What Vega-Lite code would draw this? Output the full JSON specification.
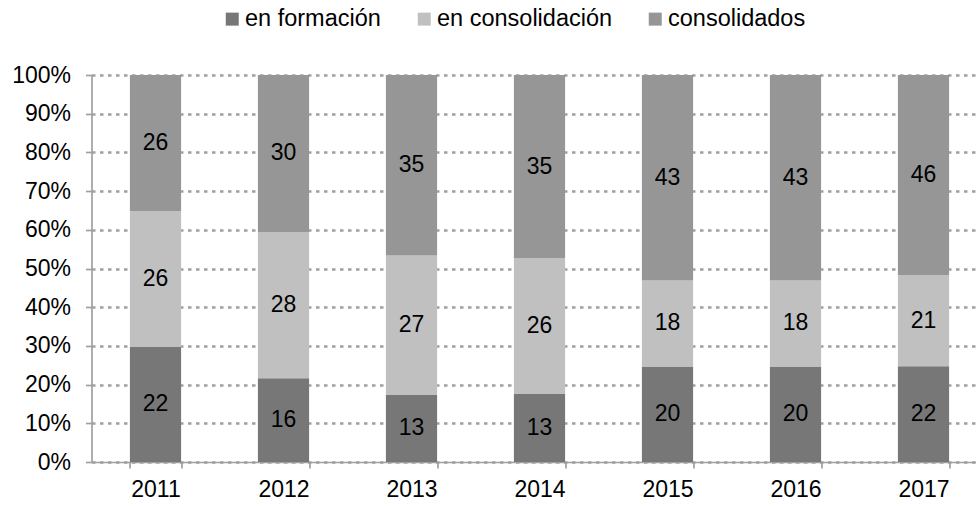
{
  "$schema": "https://vega.github.io/schema/vega-lite/v6.json",
  "autosize": {"type": "none"},
  "padding": {"left": 91.5, "top": 75, "right": 0, "bottom": 44},
  "width": 885,
  "height": 387,
  "background": "white",
  "config": {
    "font": "Liberation Sans",
    "view": {"stroke": null},
    "axis": {"labelFont": "Liberation Sans", "labelFontSize": 23, "labelColor": "black", "domainColor": "#a0a0a0", "domainWidth": 1.7, "tickColor": "#a0a0a0", "tickWidth": 1.7, "tickSize": 6, "title": null, "labelOverlap": false}
  },
  "data": {
    "values": [
      {"year": "2011", "serie": "en formación", "o": 1, "v": 22},
      {"year": "2011", "serie": "en consolidación", "o": 2, "v": 26},
      {"year": "2011", "serie": "consolidados", "o": 3, "v": 26},
      {"year": "2012", "serie": "en formación", "o": 1, "v": 16},
      {"year": "2012", "serie": "en consolidación", "o": 2, "v": 28},
      {"year": "2012", "serie": "consolidados", "o": 3, "v": 30},
      {"year": "2013", "serie": "en formación", "o": 1, "v": 13},
      {"year": "2013", "serie": "en consolidación", "o": 2, "v": 27},
      {"year": "2013", "serie": "consolidados", "o": 3, "v": 35},
      {"year": "2014", "serie": "en formación", "o": 1, "v": 13},
      {"year": "2014", "serie": "en consolidación", "o": 2, "v": 26},
      {"year": "2014", "serie": "consolidados", "o": 3, "v": 35},
      {"year": "2015", "serie": "en formación", "o": 1, "v": 20},
      {"year": "2015", "serie": "en consolidación", "o": 2, "v": 18},
      {"year": "2015", "serie": "consolidados", "o": 3, "v": 43},
      {"year": "2016", "serie": "en formación", "o": 1, "v": 20},
      {"year": "2016", "serie": "en consolidación", "o": 2, "v": 18},
      {"year": "2016", "serie": "consolidados", "o": 3, "v": 43},
      {"year": "2017", "serie": "en formación", "o": 1, "v": 22},
      {"year": "2017", "serie": "en consolidación", "o": 2, "v": 21},
      {"year": "2017", "serie": "consolidados", "o": 3, "v": 46}
    ]
  },
  "transform": [
    {"stack": "v", "groupby": ["year"], "sort": [{"field": "o"}], "offset": "normalize", "as": ["y0", "y1"]},
    {"calculate": "(datum.y0 + datum.y1) / 2", "as": "ymid"}
  ],
  "encoding": {
    "x": {
      "field": "year", "type": "nominal", "sort": null,
      "scale": {"range": [0, 896], "paddingInner": 0.6, "paddingOuter": 0.3},
      "axis": {"labelAngle": 0, "tickBand": "extent", "labelPadding": 10, "grid": false}
    }
  },
  "layer": [
    {
      "mark": {"type": "bar"},
      "encoding": {
        "y": {
          "field": "y0", "type": "quantitative",
          "scale": {"domain": [0, 1], "nice": false},
          "axis": {"values": [0, 0.1, 0.2, 0.3, 0.4, 0.5, 0.6, 0.7, 0.8, 0.9, 1], "tickCount": 20, "labelOverlap": false, "format": ".0%", "labelPadding": 15, "grid": true, "gridColor": "#a0a0a0", "gridWidth": 2.5, "gridDash": [3.5, 4.5]}
        },
        "y2": {"field": "y1"},
        "color": {
          "field": "serie", "type": "nominal",
          "scale": {"domain": ["en formación", "en consolidación", "consolidados"], "range": ["#777777", "#c0c0c0", "#969696"]},
          "legend": {
            "title": null, "orient": "none", "direction": "horizontal",
            "legendX": 129, "legendY": -68,
            "symbolType": "square", "symbolSize": 169, "symbolStrokeWidth": 0,
            "labelFontSize": 23.5, "labelFont": "Liberation Sans", "labelColor": "black", "labelOffset": 1, "labelLimit": 0,
            "columnPadding": 31
          }
        },
        "order": {"field": "o"}
      }
    },
    {
      "mark": {"type": "text", "fontSize": 23, "font": "Liberation Sans", "color": "black", "baseline": "middle"},
      "encoding": {
        "y": {
          "field": "ymid", "type": "quantitative",
          "scale": {"domain": [0, 1], "nice": false},
          "axis": {"values": [0, 0.1, 0.2, 0.3, 0.4, 0.5, 0.6, 0.7, 0.8, 0.9, 1], "tickCount": 20, "labelOverlap": false, "format": ".0%", "labelPadding": 15, "grid": true, "gridColor": "#a0a0a0", "gridWidth": 2.5, "gridDash": [3.5, 4.5]}
        },
        "text": {"field": "v", "type": "quantitative"}
      }
    }
  ]
}
